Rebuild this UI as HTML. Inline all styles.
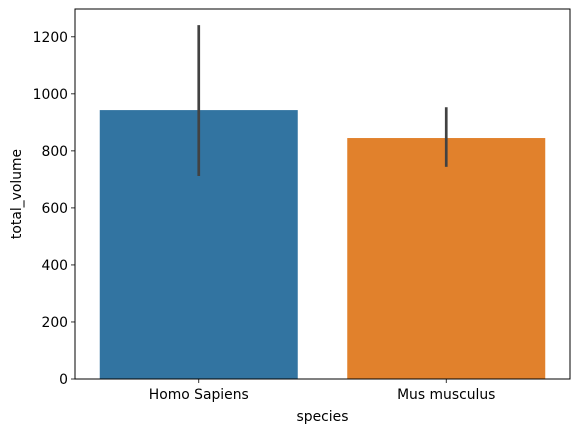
<!DOCTYPE html>
<html><head><meta charset="utf-8"><style>
body{margin:0;background:#fff;}
svg text{font-family:"DejaVu Sans","Liberation Sans",sans-serif;font-size:13.9px;fill:#000;}
</style></head><body>
<svg id="chart" width="580" height="432"></svg>
<script>
const categories=["Homo Sapiens","Mus musculus"];
const values=[943,845];
const errLow=[712,744];
const errHigh=[1241,953];
const colors=["#3274a1","#e1812c"];
const yTicks=[0,200,400,600,800,1000,1200];
const svg=document.getElementById('chart');
const NS='http://www.w3.org/2000/svg';
const L=75,R=570,T=9,B=379,yMax=1297.5;
const y=v=>B-(v/yMax)*(B-T);
const bw=(R-L)/categories.length;
const x=i=>L+bw*i+bw/2;
function mk(tag,attrs){const e=document.createElementNS(NS,tag);for(const k in attrs)e.setAttribute(k,attrs[k]);svg.appendChild(e);return e;}
categories.forEach((c,i)=>{
 const w=bw*0.8;
 const b=mk('rect',{x:x(i)-w/2,y:y(values[i]),width:w,height:B-y(values[i]),fill:colors[i]});
 
 
 const e=mk('line',{x1:x(i),x2:x(i),y1:y(errLow[i]),y2:y(errHigh[i]),stroke:'#424242','stroke-width':2.7});
 
 
 mk('line',{x1:x(i),x2:x(i),y1:B,y2:B+4,stroke:'#000','stroke-width':0.8});
 const t=mk('text',{x:x(i),y:B+20,'text-anchor':'middle'});t.textContent=c;
 
 
});
yTicks.forEach(v=>{
 mk('line',{x1:L-4,x2:L,y1:y(v),y2:y(v),stroke:'#000','stroke-width':0.8});
 const t=mk('text',{x:L-7,y:y(v)+5,'text-anchor':'end'});t.textContent=v;
 
 
});
const f=mk('rect',{x:L,y:T,width:R-L,height:B-T,fill:'none',stroke:'#000','stroke-width':1});


const xl=mk('text',{x:(L+R)/2,y:421,'text-anchor':'middle'});xl.textContent='species';


const yl=mk('text',{x:0,y:0,'text-anchor':'middle',transform:`translate(21,${(T+B)/2}) rotate(-90)`});yl.textContent='total_volume';


</script>
</body></html>
